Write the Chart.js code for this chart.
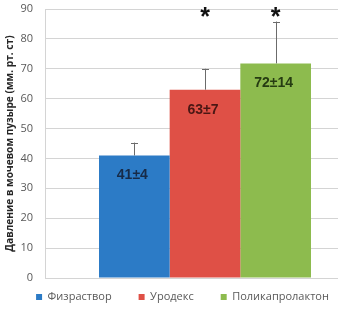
<!DOCTYPE html>
<html lang="ru">
<head>
    <meta charset="UTF-8">
    <title>Давление в мочевом пузыре</title>
    <script src="https://cdn.jsdelivr.net/npm/chart.js"></script>
    <style>
        body { margin: 0; overflow: hidden; background: #fff; }
        #wrap { width: 338px; height: 313px; overflow: hidden; }
        canvas { display: block; }
    </style>
</head>
<body>
    <div id="wrap">
        <!-- canvas is wider than the window: the original chart is cut off at the right -->
        <canvas id="chart" width="388" height="313"></canvas>
    </div>

    <script>
        const categories = [''];
        const seriesNames = ['Физраствор', 'Уродекс', 'Поликапролактон'];
        const means = [41, 63, 71.8];
        const errors = [4.3, 7, 14];
        const valueLabels = ['41±4', '63±7', '72±14'];
        const significant = [false, true, true];
        const yTicks = [0, 10, 20, 30, 40, 50, 60, 70, 80, 90];

        const barColors = ['#2C7BC6', '#DF5046', '#8DBB4E'];
        const labelColors = ['#172b48', '#4a1714', '#263c12'];

        const overlay = {
            id: 'overlay',
            afterLayout(chart) {
                // pull the legend row up closer to the plot
                chart.legend.top -= 13.5;
            },
            afterDatasetsDraw(chart) {
                const ctx = chart.ctx;
                const y = chart.scales.y;
                ctx.save();
                seriesNames.forEach((name, i) => {
                    const bar = chart.getDatasetMeta(i).data[0];
                    const top = y.getPixelForValue(means[i] + errors[i]);
                    // error bar (upper only)
                    ctx.strokeStyle = '#6b6b6b';
                    ctx.lineWidth = 1;
                    ctx.beginPath();
                    ctx.moveTo(Math.round(bar.x) + 0.5, bar.y);
                    ctx.lineTo(Math.round(bar.x) + 0.5, top);
                    ctx.moveTo(Math.round(bar.x) - 3, Math.round(top) + 0.5);
                    ctx.lineTo(Math.round(bar.x) + 4, Math.round(top) + 0.5);
                    ctx.stroke();

                    // value label inside bar
                    ctx.fillStyle = labelColors[i];
                    ctx.font = 'bold 14px "Liberation Sans", Arial, sans-serif';
                    ctx.textAlign = 'center';
                    ctx.textBaseline = 'middle';
                    ctx.fillText(valueLabels[i], bar.x - 2, bar.y + 20);

                    // significance mark
                    if (significant[i]) {
                        ctx.fillStyle = '#111';
                        ctx.font = 'bold 25px "Liberation Sans", Arial, sans-serif';
                        ctx.textBaseline = 'alphabetic';
                        const m = ctx.measureText('*');
                        const cy = y.getPixelForValue(89);
                        const off = (m.actualBoundingBoxAscent - m.actualBoundingBoxDescent) / 2;
                        ctx.fillText('*', bar.x, cy + off);
                    }
                });
                ctx.restore();
            }
        };

        new Chart(document.getElementById('chart'), {
            type: 'bar',
            data: {
                labels: categories,
                datasets: seriesNames.map((name, i) => ({
                    label: name,
                    data: [means[i]],
                    backgroundColor: barColors[i],
                    borderWidth: 0,
                    categoryPercentage: 0.6625,
                    barPercentage: 1
                }))
            },
            options: {
                responsive: false,
                animation: false,
                devicePixelRatio: 1,
                layout: { padding: { top: 9, right: 23, left: 0, bottom: 0 } },
                plugins: {
                    tooltip: { enabled: false },
                    legend: {
                        position: 'bottom',
                        maxHeight: 35,
                        labels: {
                            boxWidth: 6,
                            boxHeight: 6,
                            padding: 27,
                            color: '#595959',
                            font: { family: '"Open Sans", sans-serif', size: 11 }
                        }
                    }
                },
                scales: {
                    x: {
                        display: false
                    },
                    y: {
                        min: 0,
                        max: 90,
                        afterFit(scale) { scale.width = 45; },
                        afterBuildTicks(scale) { scale.ticks = yTicks.map(v => ({ value: v })); },
                        grid: { color: '#d4d4d4', tickLength: 12, tickColor: 'rgba(0,0,0,0)' },
                        border: { color: '#d4d4d4' },
                        ticks: {
                            padding: 0,
                            color: '#595959',
                            font: { family: '"Open Sans", sans-serif', size: 11 }
                        },
                        title: {
                            display: true,
                            text: 'Давление в мочевом пузыре (мм. рт. ст)',
                            color: '#262626',
                            font: { family: '"Open Sans", sans-serif', size: 10.2, weight: 'bold' }
                        }
                    }
                }
            },
            plugins: [overlay]
        });
    </script>
</body>
</html>
